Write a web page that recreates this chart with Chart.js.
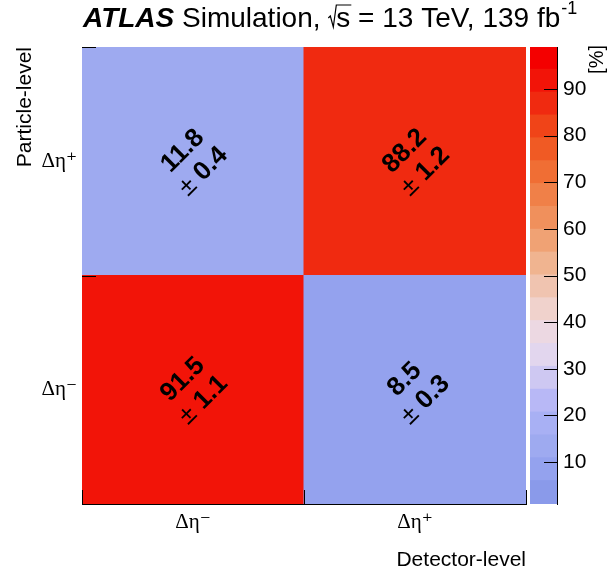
<!DOCTYPE html>
<html>
<head>
<meta charset="utf-8">
<script src="https://cdn.jsdelivr.net/npm/chart.js@4.4.1/dist/chart.umd.min.js"></script>
<style>
html, body { margin: 0; padding: 0; background: #fff; }
#wrap { position: relative; width: 611px; height: 575px; }
#main { position: absolute; left: 0; top: 0; }
#zbar { position: absolute; left: 530px; top: 0; }
</style>
</head>
<body>
<div id="wrap">
  <canvas id="main" width="611" height="575"></canvas>
  <canvas id="zbar" width="81" height="575"></canvas>
</div>
<script>
// bins on both axes
const detectorLabels = ['Δη⁻', 'Δη⁺'];
const particleLabels = ['Δη⁻', 'Δη⁺'];

// migration in %, one array per particle-level row, columns = detector-level bins
const rowNeg = [91.5, 8.5];
const rowNegErr = [1.1, 0.3];
const rowPos = [11.8, 88.2];
const rowPosErr = [0.4, 1.2];

// colour axis
const zMin = 1;
const zMax = 99;
const zTicks = [10, 20, 30, 40, 50, 60, 70, 80, 90];
const palette = [
  '#8a9aea', '#94a2ee', '#9eaaf0', '#a8b0f4', '#b8b8f6',
  '#cec8f2', '#e2d6ee', '#ecd8e2', '#f0d2cc', '#f0c4b0',
  '#f0b490', '#f0a274', '#f0905c', '#f08048', '#f06e34',
  '#f05a24', '#f04418', '#f02a10', '#f21408', '#f40000'
];

const SANS = '"Liberation Sans", Arial, Helvetica, sans-serif';
const SERIF = '"Liberation Serif", "DejaVu Serif", "Times New Roman", serif';
Chart.defaults.font.family = SANS;
Chart.defaults.color = '#000';

function zColor(v) {
  let i = Math.floor((v - zMin) / (zMax - zMin) * palette.length);
  i = Math.max(0, Math.min(palette.length - 1, i));
  return palette[i];
}

const rows = [
  {values: rowNeg, errors: rowNegErr},
  {values: rowPos, errors: rowPosErr}
];

// numbers in the cells, rotated like in the ROOT plot
const cellText = {
  id: 'cellText',
  afterDatasetsDraw(chart) {
    const ctx = chart.ctx;
    const gap = 29;
    chart.data.datasets.forEach((ds, di) => {
      chart.getDatasetMeta(di).data.forEach((bar, i) => {
        const c = bar.getCenterPoint();
        const val = ds.values[i].toFixed(1);
        const err = ds.errors[i].toFixed(1);
        ctx.save();
        ctx.translate(c.x, c.y);
        ctx.rotate(-Math.PI / 4);
        ctx.fillStyle = '#000';
        ctx.textBaseline = 'middle';
        ctx.textAlign = 'center';
        ctx.font = 'bold 26px ' + SANS;
        ctx.fillText(val, 0, -gap / 2);
        ctx.font = '26px ' + SANS;
        const wPm = ctx.measureText('± ').width;
        ctx.font = 'bold 26px ' + SANS;
        const wErr = ctx.measureText(err).width;
        let x = -(wPm + wErr) / 2;
        ctx.textAlign = 'left';
        ctx.font = '26px ' + SANS;
        ctx.fillText('±', x, gap / 2);
        ctx.font = 'bold 26px ' + SANS;
        ctx.fillText(err, x + wPm, gap / 2);
        ctx.restore();
      });
    });
  }
};

// inner tick marks at the bin edges + the ATLAS label
const frameDeco = {
  id: 'frameDeco',
  afterDraw(chart) {
    const {ctx, chartArea, scales} = chart;
    ctx.save();
    ctx.strokeStyle = '#000';
    ctx.lineWidth = 1;
    ctx.beginPath();
    for (let i = 0; i <= particleLabels.length; i++) {
      const py = Math.round(scales.y.getPixelForValue(i)) + 0.5;
      ctx.moveTo(chartArea.left, py);
      ctx.lineTo(chartArea.left + 14, py);
    }
    for (let i = 0; i <= detectorLabels.length; i++) {
      const px = Math.round(scales.x.getPixelForValue(i - 0.5)) + 0.5;
      ctx.moveTo(px, chartArea.bottom);
      ctx.lineTo(px, chartArea.bottom - 14);
    }
    ctx.stroke();

    // title
    const base = 27;
    let x = 83;
    ctx.fillStyle = '#000';
    ctx.textAlign = 'left';
    ctx.textBaseline = 'alphabetic';
    ctx.font = 'italic bold 28px ' + SANS;
    ctx.fillText('ATLAS', x, base);
    x += ctx.measureText('ATLAS').width;
    ctx.font = '28px ' + SANS;
    ctx.fillText(' Simulation, ', x, base);
    x += ctx.measureText(' Simulation, ').width;
    // square root of s
    ctx.beginPath();
    ctx.lineWidth = 1.2;
    ctx.moveTo(x, base - 9);
    ctx.lineTo(x + 2, base - 11);
    ctx.lineTo(x + 5, base);
    ctx.lineTo(x + 8, base - 22);
    ctx.lineTo(x + 23, base - 22);
    ctx.stroke();
    x += 8;
    ctx.fillText('s', x, base);
    x += ctx.measureText('s').width;
    const rest = ' = 13 TeV, 139 fb';
    ctx.fillText(rest, x, base);
    x += ctx.measureText(rest).width;
    ctx.font = '18px ' + SANS;
    ctx.fillText('-1', x + 1, base - 13);
    ctx.restore();
  }
};

const mainDatasets = rows.map((r, ri) => ({
  label: particleLabels[ri],
  data: detectorLabels.map(() => [ri, ri + 1]),
  values: r.values,
  errors: r.errors,
  backgroundColor: r.values.map(zColor),
  borderWidth: 0,
  inflateAmount: 0.5,
  grouped: false,
  barPercentage: 1,
  categoryPercentage: 1
}));

new Chart(document.getElementById('main'), {
  type: 'bar',
  data: {labels: detectorLabels, datasets: mainDatasets},
  options: {
    responsive: false,
    animation: false,
    events: [],
    layout: {padding: {left: 0, top: 47, right: 85, bottom: 0}},
    plugins: {legend: {display: false}, tooltip: {enabled: false}},
    scales: {
      x: {
        type: 'category',
        offset: true,
        grid: {display: false, drawTicks: false},
        border: {display: true, color: '#000', width: 1},
        ticks: {color: '#000', padding: 6, maxRotation: 0, font: {family: SERIF, size: 21}},
        title: {
          display: true, text: 'Detector-level', align: 'end', color: '#000',
          font: {family: SANS, size: 21}, padding: {top: 0, bottom: 2}
        },
        afterFit(s) { s.height = 71; }
      },
      y: {
        type: 'linear',
        min: 0,
        max: particleLabels.length,
        grid: {display: false, drawTicks: false},
        border: {display: true, color: '#000', width: 1},
        afterBuildTicks(s) { s.ticks = particleLabels.map((l, i) => ({value: i + 0.5})); },
        ticks: {
          color: '#000', padding: 5, font: {family: SERIF, size: 21},
          callback: v => particleLabels[Math.floor(v)]
        },
        title: {
          display: true, text: 'Particle-level', align: 'end', color: '#000',
          font: {family: SANS, size: 21}, padding: {top: 13, bottom: 0}
        },
        afterFit(s) { s.width = 82; }
      }
    }
  },
  plugins: [cellText, frameDeco]
});

// colour bar
const zStep = (zMax - zMin) / palette.length;
const zDatasets = palette.map((c, i) => ({
  data: [[zMin + i * zStep, zMin + (i + 1) * zStep]],
  backgroundColor: c,
  borderWidth: 0,
  inflateAmount: 1,
  grouped: false,
  barPercentage: 1,
  categoryPercentage: 1
}));

const zDeco = {
  id: 'zDeco',
  afterDraw(chart) {
    const {ctx, chartArea, scales} = chart;
    ctx.save();
    ctx.strokeStyle = '#000';
    ctx.lineWidth = 1;
    ctx.beginPath();
    zTicks.forEach(v => {
      const py = Math.round(scales.y.getPixelForValue(v)) + 0.5;
      ctx.moveTo(chartArea.right, py);
      ctx.lineTo(chartArea.right - 13, py);
    });
    ctx.stroke();
    ctx.translate(67, 45);
    ctx.rotate(-Math.PI / 2);
    ctx.fillStyle = '#000';
    ctx.font = '20px ' + SANS;
    ctx.textAlign = 'right';
    ctx.textBaseline = 'middle';
    ctx.fillText('[%]', 0, 0);
    ctx.restore();
  }
};

new Chart(document.getElementById('zbar'), {
  type: 'bar',
  data: {labels: [''], datasets: zDatasets},
  options: {
    responsive: false,
    animation: false,
    events: [],
    layout: {padding: {left: 0, top: 47, right: 0, bottom: 71}},
    plugins: {legend: {display: false}, tooltip: {enabled: false}},
    scales: {
      x: {type: 'category', display: false, offset: true},
      y: {
        position: 'right',
        min: zMin,
        max: zMax,
        grid: {display: false, drawTicks: false},
        border: {display: true, color: '#000', width: 1},
        afterBuildTicks(s) { s.ticks = zTicks.map(v => ({value: v})); },
        ticks: {color: '#000', padding: 6, font: {family: SANS, size: 21}},
        afterFit(s) { s.width = 54; }
      }
    }
  },
  plugins: [zDeco]
});
</script>
</body>
</html>
